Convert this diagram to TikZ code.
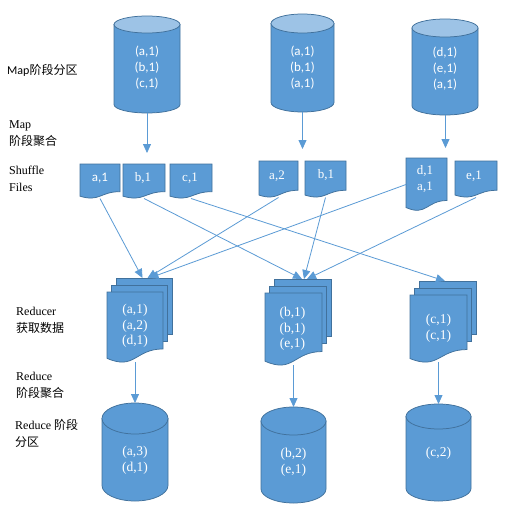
\documentclass[tikz,border=0pt]{standalone}
\usepackage{fontspec}
\setmainfont{Liberation Serif}
\newfontfamily\calfont{Carlito}
\newfontfamily\cjkfont{Noto Sans CJK SC}
\usetikzlibrary{arrows.meta}
\definecolor{fillblue}{HTML}{5B9BD5}
\definecolor{edgeblue}{HTML}{41719C}
\definecolor{lidblue}{HTML}{9DC3E6}
\tikzset{
 shapesty/.style={fill=fillblue, draw=edgeblue, line width=0.75pt},
 lidsty/.style={fill=lidblue, draw=edgeblue, line width=0.75pt},
 box/.style={draw=none, inner sep=0pt, outer sep=0pt},
 cyltext/.style={text=white, font=\calfont\fontsize{13}{16}\selectfont, align=center, inner sep=0pt},
 ser/.style={text=white, font=\fontsize{13.5}{15.5}\selectfont, align=center, inner sep=0pt},
 doctext/.style={text=white, font=\fontsize{13}{16}\selectfont, align=center, inner sep=0pt},
 lab/.style={anchor=west, align=left, inner sep=0pt, font=\fontsize{12}{17}\selectfont},
 conn/.style={draw=fillblue, line width=0.8pt, -{Triangle[length=9pt,width=8pt]}},
}
% name, cx, top, bottom, rx, ry, text y, style, text
\newcommand\Cyl[9]{%
 \filldraw[shapesty] ({#2-#5},{#3+#6}) -- ({#2-#5},{#4-#6}) arc[start angle=180,end angle=0,x radius=#5,y radius=#6] -- ({#2+#5},{#3+#6}) -- cycle;
 \filldraw[lidsty] (#2,{#3+#6}) ellipse[x radius=#5,y radius=#6];
 \node[box, minimum width={2*#5pt}, minimum height={(#4-#3)*1pt}] (#1) at (#2,{(#3+#4)/2}) {};
 \node[#8] (#1t) at (#2,#7) {#9};
}
% name, x0, y0, w, H, tx, ty, text
\newcommand\Doc[8]{%
 \filldraw[shapesty] (#2,#3) -- ({#2+#4},#3) -- ({#2+#4},{#3+0.802*#5}) .. controls ({#2+0.5*#4},{#3+0.802*#5}) and ({#2+0.5*#4},{#3+1.107*#5}) .. (#2,{#3+0.934*#5}) -- cycle;
 \node[box, minimum width={#4*1pt}, minimum height={#5*1pt}] (#1) at ({#2+#4/2},{#3+#5/2}) {};
 \node[doctext] (#1t) at (#6,#7) {#8};
}
\newcommand\MDoc[8]{%
 \filldraw[shapesty] ({#2+9},{#3-14}) rectangle ({#2+9+#4},{#3+0.802*#5-15});
 \filldraw[shapesty] ({#2+4.5},{#3-7}) rectangle ({#2+4.5+#4},{#3+0.802*#5-8});
 \filldraw[shapesty] (#2,#3) -- ({#2+#4},#3) -- ({#2+#4},{#3+0.802*#5}) .. controls ({#2+0.5*#4},{#3+0.802*#5}) and ({#2+0.5*#4},{#3+1.107*#5}) .. (#2,{#3+0.934*#5}) -- cycle;
 \node[box, minimum width={(#4+9)*1pt}, minimum height={(14+0.987*#5)*1pt}] (#1) at ({#2+(#4+9)/2},{#3-14+(14+0.987*#5)/2}) {};
 \node[ser] (#1t) at (#6,#7) {#8};
}
\begin{document}
\begin{tikzpicture}[x=1pt,y=-1pt]
\fill[white] (0,0) rectangle (506,506);
\useasboundingbox (0,0) rectangle (506,506);

% top cylinders
\Cyl{c1}{147}{16}{113}{33}{8.5}{68}{cyltext}{(a,1)\\(b,1)\\(c,1)}
\Cyl{c2}{302.5}{14}{112}{31.5}{9.5}{68}{cyltext}{(a,1)\\(b,1)\\(a,1)}
\Cyl{c3}{445}{19}{115}{33}{9}{69}{cyltext}{(d,1)\\(e,1)\\(a,1)}

% shuffle files
\Doc{s1}{80}{164}{40}{34.5}{100}{178}{\calfont a,1}
\Doc{s2}{123}{164}{42}{34.5}{143}{178}{b,1}
\Doc{s3}{170}{164}{42}{34.5}{190}{178}{c,1}
\Doc{s4}{259}{161}{39}{36.5}{277}{176}{a,2}
\Doc{s5}{305}{161}{41}{36.5}{326}{175}{b,1}
\Doc{s6}{406}{158}{41}{53}{425}{179}{d,1\\a,1}
\Doc{s7}{455}{161}{42}{36.5}{474}{176}{e,1}

% reducers
\MDoc{r1}{107}{292}{56}{71}{135}{326}{(a,1)\\(a,2)\\(d,1)}
\MDoc{r2}{265}{293}{57}{73}{292.5}{329}{(b,1)\\(b,1)\\(e,1)}
\MDoc{r3}{410}{295}{57}{68}{438.5}{328}{(c,1)\\(c,1)}

% bottom cylinders (lid in the body colour)
\tikzset{lidsty/.style={fill=fillblue, draw=edgeblue, line width=0.75pt}}
\Cyl{b1}{135}{403}{501}{33}{15.5}{460}{ser}{(a,3)\\(d,1)}
\Cyl{b2}{293.5}{407}{503}{32.5}{14}{462}{ser}{(b,2)\\(e,1)}
\Cyl{b3}{438.5}{404}{501}{32.5}{12.5}{453}{ser}{(c,2)}

% labels
\node[lab, font=\calfont\fontsize{12}{17}\selectfont] (l1) at (7,70) {Map\cjkfont 阶段分区};
\node[lab] (l2) at (9,133.5) {Map\\\cjkfont 阶段聚合};
\node[lab] (l3) at (9,179) {Shuffle\\Files};
\node[lab] (l4) at (16,320.5) {Reducer\\\cjkfont 获取数据};
\node[lab] (l5) at (16,385.5) {Reduce\\\cjkfont 阶段聚合};
\node[lab] (l6) at (15,433.5) {Reduce \cjkfont 阶段\\\cjkfont 分区};

% connectors
\coordinate (m1) at (147,153);
\coordinate (m2) at (302.5,149);
\coordinate (m3) at (445.5,148);
\draw[conn] (c1.south) -- (m1);
\draw[conn] (c2.south) -- (m2);
\draw[conn] ([xshift=0.5pt]c3.south) -- (m3);

\draw[conn] (s1.south) -- ([xshift=3pt]r1.north);
\draw[conn] (s4.south) -- ([xshift=8pt]r1.north);
\draw[conn] (s6.west) -- ([xshift=10pt]r1.north);
\draw[conn] (s2.south) -- ([xshift=4pt]r2.north);
\draw[conn] (s5.south) -- ([xshift=6pt]r2.north);
\draw[conn] (s7.south) -- ([xshift=9pt]r2.north);
\draw[conn] (s3.south) -- ([xshift=2pt]r3.north);

\draw[conn] (r1.south -| b1.north) -- (b1.north);
\draw[conn] (r2.south -| b2.north) -- (b2.north);
\draw[conn] (r3.south -| b3.north) -- (b3.north);
\end{tikzpicture}
\end{document}
